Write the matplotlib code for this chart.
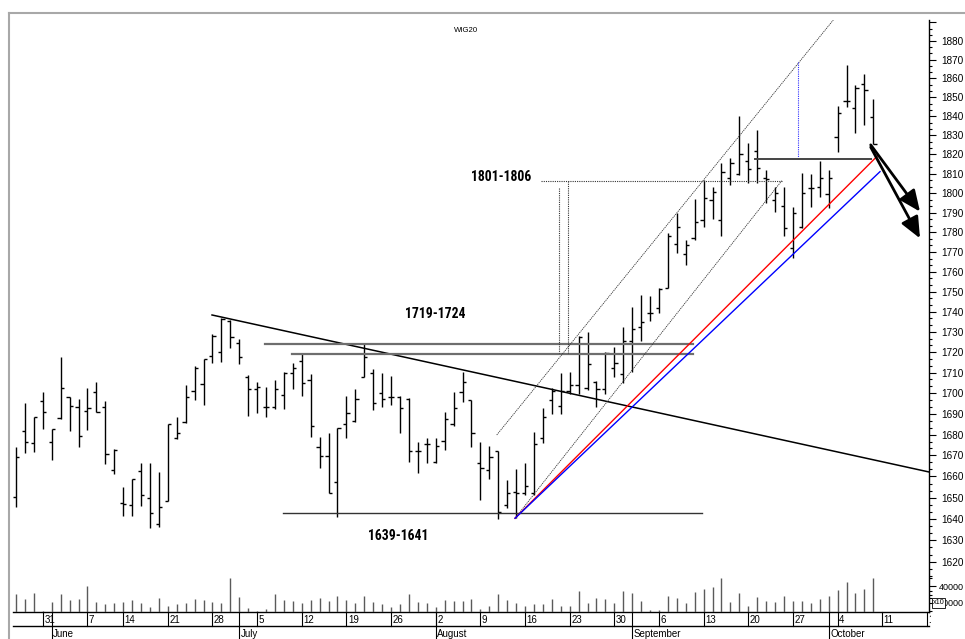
import numpy as np
import pandas as pd
import matplotlib
matplotlib.use('Agg')
import matplotlib.pyplot as plt
import matplotlib.font_manager as fm
from matplotlib.ticker import FixedLocator, FuncFormatter, NullFormatter
from matplotlib.lines import Line2D
from matplotlib.patches import Rectangle
import matplotlib.transforms as mtrans

plt.rcParams['font.family'] = ['Liberation Sans', 'DejaVu Sans']

# ---------------- data (WIG20 daily OHLC, 2004) ----------------
start_date = '2004-05-26'
holidays = ['2004-06-10']

opens = [1650.5, 1681.9, 1676.1, 1696.2, 1676.6, 1687.8, 1698.3, 1693.2, 1691.4, 1700.5,
         1693.2, 1663.2, 1647.6, 1646.5, 1662.6, 1649.7, 1637.5, 1648.6, 1678.4, 1686.2,
         1701.2, 1704.4, 1718.2, 1720.3, 1735.6, 1724.4, 1708.0, 1701.9, 1693.2, 1693.5,
         1699.1, 1709.9, 1715.9, 1706.4, 1674.2, 1669.8, 1657.6, 1684.9, 1686.7, 1707.8,
         1709.9, 1700.0, 1698.3, 1698.3, 1697.0, 1672.3, 1675.5, 1667.1, 1677.1, 1685.1,
         1700.8, 1696.7, 1666.6, 1662.9, 1672.3, 1646.5, 1652.8, 1652.1, 1652.1, 1678.2,
         1696.7, 1693.8, 1701.2, 1704.0, 1702.3, 1705.6, 1701.9, 1712.4, 1709.3, 1725.6,
         1732.3, 1739.3, 1741.7, 1751.7, 1774.1, 1769.0, 1776.9, 1786.3, 1796.5, 1786.0,
         1807.7, 1809.9, 1816.8, 1821.9, 1807.7, 1796.5, 1793.4, 1772.1, 1782.6, 1802.5,
         1803.0, 1799.6, 1828.9, 1848.0, 1844.1, 1857.0, 1839.7]
highs = [1673.9, 1695.1, 1688.3, 1700.5, 1682.7, 1717.5, 1698.3, 1697.2, 1702.6, 1705.3,
         1696.4, 1673.0, 1654.9, 1658.7, 1666.3, 1666.3, 1662.1, 1684.9, 1688.3, 1704.0,
         1713.4, 1716.7, 1729.0, 1736.8, 1735.9, 1726.3, 1708.8, 1705.6, 1702.8, 1706.4,
         1710.4, 1714.9, 1719.5, 1709.3, 1678.7, 1680.6, 1683.3, 1698.6, 1701.9, 1724.7,
         1711.6, 1709.9, 1708.3, 1698.6, 1697.5, 1676.6, 1678.2, 1678.2, 1691.0, 1700.8,
         1710.4, 1696.7, 1676.6, 1674.5, 1672.3, 1658.1, 1663.5, 1666.3, 1681.4, 1692.7,
         1702.3, 1709.9, 1710.4, 1728.0, 1730.1, 1706.1, 1720.3, 1722.7, 1732.6, 1742.5,
         1748.4, 1747.9, 1751.7, 1779.7, 1789.7, 1776.1, 1796.9, 1806.8, 1803.0, 1815.8,
         1818.1, 1840.1, 1826.1, 1832.7, 1812.0, 1803.0, 1803.4, 1793.1, 1810.3, 1809.9,
         1816.6, 1812.0, 1845.2, 1866.9, 1856.6, 1862.4, 1849.3]
lows = [1645.8, 1671.4, 1671.8, 1682.7, 1667.6, 1687.3, 1681.9, 1674.2, 1682.2, 1691.0,
        1666.0, 1661.3, 1641.4, 1641.4, 1646.2, 1635.6, 1636.1, 1648.6, 1678.0, 1685.7,
        1696.7, 1694.3, 1714.6, 1715.4, 1721.9, 1714.1, 1688.9, 1690.5, 1688.3, 1692.4,
        1692.2, 1701.9, 1698.6, 1678.7, 1664.0, 1652.1, 1641.0, 1678.2, 1686.2, 1707.7,
        1691.9, 1693.4, 1694.3, 1680.6, 1667.1, 1661.6, 1666.6, 1666.6, 1672.6, 1684.1,
        1695.9, 1673.9, 1648.9, 1658.7, 1639.8, 1645.0, 1640.3, 1651.3, 1651.3, 1675.8,
        1689.9, 1689.9, 1699.6, 1699.6, 1701.6, 1693.2, 1699.6, 1708.0, 1704.8, 1710.4,
        1725.6, 1735.6, 1739.3, 1751.7, 1769.4, 1763.4, 1776.1, 1782.6, 1786.7, 1777.9,
        1804.2, 1809.4, 1805.1, 1805.1, 1794.8, 1790.2, 1777.9, 1766.8, 1782.1, 1792.8,
        1798.2, 1792.3, 1821.4, 1845.0, 1831.3, 1835.4, 1825.2]
closes = [1669.5, 1676.6, 1688.3, 1691.0, 1682.7, 1702.3, 1693.8, 1679.3, 1692.7, 1691.0,
          1670.8, 1672.6, 1647.0, 1658.7, 1651.3, 1642.6, 1645.5, 1684.9, 1680.8, 1698.3,
          1712.1, 1716.5, 1728.0, 1736.3, 1727.3, 1717.5, 1701.9, 1702.8, 1693.2, 1701.9,
          1709.9, 1712.4, 1704.8, 1684.1, 1669.8, 1652.1, 1683.3, 1690.5, 1697.2, 1717.5,
          1695.1, 1697.2, 1698.0, 1692.7, 1672.3, 1672.3, 1675.5, 1674.6, 1687.3, 1692.7,
          1705.6, 1680.6, 1664.0, 1669.5, 1643.4, 1652.4, 1652.1, 1655.5, 1675.5, 1688.6,
          1701.2, 1701.2, 1704.0, 1727.3, 1714.0, 1701.9, 1719.8, 1714.6, 1725.6, 1731.3,
          1735.1, 1739.3, 1751.2, 1777.9, 1782.6, 1773.6, 1785.4, 1797.4, 1800.8, 1811.1,
          1815.8, 1820.2, 1812.4, 1812.9, 1807.2, 1800.3, 1782.4, 1790.0, 1800.3, 1802.5,
          1807.7, 1807.7, 1841.8, 1847.8, 1854.9, 1853.6, 1825.2]
volumes = [30700, 24200, 32400, 10300, 20900, 30300, 23300, 24600, 40900, 20900,
           18000, 20100, 20900, 23300, 20100, 14400, 25400, 16400, 18000, 19300,
           24200, 23300, 20900, 20100, 49900, 26600, 13100, 9500, 12300, 30700,
           23300, 22100, 20100, 23300, 25400, 22100, 28200, 23300, 19300, 28200,
           20900, 18000, 14400, 18000, 30700, 20900, 19300, 14400, 23300, 22100,
           22100, 24600, 12300, 16400, 30300, 23300, 19300, 16400, 18000, 18000,
           24600, 16400, 16400, 34400, 20100, 25400, 24600, 20100, 34400, 32400,
           22100, 11100, 11100, 28700, 25400, 20100, 33600, 36800, 38900, 49900,
           21300, 32400, 16400, 27500, 22100, 21300, 28700, 22100, 22100, 20100,
           24600, 28700, 35600, 45000, 31500, 36400, 50800]

price_ticks = list(range(1620, 1891, 10))
volume_ticks = [20000, 40000]
month_names = {6: 'June', 7: 'July', 8: 'August', 9: 'September', 10: 'October'}

# drawn studies: (x as trading-day index, price)
downtrend = ([21.95, 102.27], [1738.4, 1662.1])
resist_hi = ([27.88, 75.78], [1724.1, 1724.1])
resist_lo = ([30.94, 75.78], [1719.2, 1719.2])
support = ([29.87, 76.82], [1642.9, 1642.9])
chan_upper = ([53.83, 91.52], [1679.8, 1891.3])
chan_lower = ([55.88, 85.75], [1640.3, 1806.4])
red_trend = ([55.88, 96.56], [1640.3, 1819.7])
blue_trend = ([55.88, 96.75], [1640.3, 1811.1])
target_h = ([58.79, 85.75], [1806.5, 1806.5])
target_v1 = ([60.81, 60.81], [1802.5, 1719.6])
target_v2 = ([61.85, 61.85], [1806.5, 1719.6])
blue_v = ([87.6, 87.6], [1868.9, 1817.4])
top_h = ([82.75, 95.71], [1817.7, 1817.7])
arrows = [((95.71, 1825.0), (101.23, 1790.5)), ((95.71, 1823.8), (101.23, 1776.9))]
labels = [('1801-1806', 57.75, 1806.4), ('1719-1724', 50.28, 1736.8), ('1639-1641', 46.14, 1630.2)]


def narrow_bold_font():
    pref = ['Liberation Sans Narrow', 'Arial Narrow', 'DejaVu Sans Condensed',
            'Noto Sans Condensed', 'Roboto Condensed', 'Open Sans Condensed']
    entries = fm.fontManager.ttflist
    for p in pref:
        for e in entries:
            if e.name == p and e.weight in ('bold', 700) and e.style == 'normal':
                return e.fname
    for e in entries:
        nm = e.fname.lower()
        if (('condensed' in nm and 'semi' not in nm and 'extra' not in nm) or 'narrow' in nm) \
                and e.weight in ('bold', 700) and e.style == 'normal' \
                and 'mono' not in nm and 'serif' not in nm and 'italic' not in nm:
            return e.fname
    return None


# ---------------- figure ----------------
W, H = 965, 639
fig = plt.figure(figsize=(W / 100, H / 100), dpi=100)
fig.patch.set_facecolor('white')


def fx(px):
    return px / W


def fy(py):
    return 1 - py / H


L, R, T, B = 12.7, 929.3, 20.0, 612.3
XMIN, XMAX = -0.37, 102.27

dates = pd.bdate_range(start_date, '2004-10-22')
dates = dates[~dates.isin(pd.to_datetime(holidays))]
n = len(opens)
x = np.arange(n)

ax = fig.add_axes([fx(L), fy(B), fx(R) - fx(L), fy(T) - fy(B)])
ax.patch.set_alpha(0)
ax.set_yscale('log')
ax.set_xlim(XMIN, XMAX)
ax.set_ylim(1596.8, 1891.3)

lw_bar = 1.0
ax.vlines(x, lows, highs, color='black', lw=lw_bar)
ax.hlines(opens, x - 0.36, x, color='black', lw=lw_bar)
ax.hlines(closes, x, x + 0.36, color='black', lw=lw_bar)

ax.yaxis.set_major_locator(FixedLocator(price_ticks))
ax.yaxis.set_major_formatter(FuncFormatter(lambda v, p: '' if v > 1885 else f'{v:.0f}'))
minor = []
for k in range(0, 88):
    m = 1600 + k * 10 / 3
    if k % 3 != 0 and m < 1891:
        minor.append(m)
ax.yaxis.set_minor_locator(FixedLocator(minor))
ax.yaxis.set_minor_formatter(NullFormatter())
ax.yaxis.tick_right()
ax.tick_params(axis='y', which='major', direction='out', length=5, width=0.8, labelsize=7.2, pad=3.5)
ax.tick_params(axis='y', which='minor', direction='out', length=2.5, width=0.8)
ax.set_xticks([])
for s in ['left', 'top']:
    ax.spines[s].set_visible(False)
ax.spines['right'].set_linewidth(1.0)
ax.spines['bottom'].set_linewidth(1.0)

# studies
ax.plot(*downtrend, color='black', lw=1.1)
ax.plot(*resist_hi, color='#6e6e6e', lw=1.6)
ax.plot(*resist_lo, color='#6e6e6e', lw=1.6)
ax.plot(*support, color='#333333', lw=1.0)
ax.plot(*chan_upper, color='#333333', lw=0.6, ls=(0, (1.5, 1)))
ax.plot(*chan_lower, color='#333333', lw=0.6, ls=(0, (1.5, 1)))
ax.plot(*red_trend, color='#ff0000', lw=1.0)
ax.plot(*blue_trend, color='#0000ff', lw=1.0)
ax.plot(*target_h, color='#333333', lw=0.8, ls=(0, (1, 1)))
ax.plot(*target_v1, color='#333333', lw=0.8, ls=(0, (1, 1)))
ax.plot(*target_v2, color='#333333', lw=0.8, ls=(0, (1, 1)))
ax.plot(*blue_v, color='#3030ff', lw=0.8, ls=(0, (1, 1)))
ax.plot(*top_h, color='#444444', lw=1.4)
for st, tip in arrows:
    ax.annotate('', xy=tip, xytext=st,
                arrowprops=dict(arrowstyle='-|>,head_length=0.8,head_width=0.35',
                                color='black', lw=2.0, mutation_scale=16,
                                shrinkA=0, shrinkB=0), annotation_clip=False)

nb = narrow_bold_font()
label_texts = []
for txt, lx, ly in labels:
    if nb is not None:
        fp = fm.FontProperties(fname=nb, size=11.5)
    else:
        fp = fm.FontProperties(family=['Liberation Sans', 'DejaVu Sans'], weight='bold', size=10)
    label_texts.append(ax.text(lx, ly, txt, ha='right', va='baseline', fontproperties=fp))

# volume overlay
VTOP = 570
axv = fig.add_axes([fx(L), fy(B), fx(R) - fx(L), fy(VTOP) - fy(B)])
axv.patch.set_alpha(0)
axv.set_xlim(XMIN, XMAX)
vfloor = 8220
axv.set_ylim(vfloor, 60120)
axv.vlines(x, vfloor, volumes, color='#5a5a5a', lw=1.0)
axv.set_xticks([])
for s in axv.spines.values():
    s.set_visible(False)
axv.yaxis.tick_right()
axv.yaxis.set_major_locator(FixedLocator(volume_ticks))
axv.yaxis.set_major_formatter(FuncFormatter(lambda v, p: f'{v:.0f}'))
axv.yaxis.set_minor_locator(FixedLocator([10000, 30000, 50000]))
axv.tick_params(axis='y', which='major', direction='out', length=5, width=0.8, labelsize=6.5, pad=2)
axv.tick_params(axis='y', which='minor', direction='out', length=2.5, width=0.8)
fig.text(fx(938.5), fy(603), 'x10', fontsize=5.2, ha='center', va='center',
         bbox=dict(boxstyle='square,pad=0.15', fc='white', ec='black', lw=0.6))

# date rows
trans = mtrans.blended_transform_factory(ax.transData, fig.transFigure)
clip_rect = Rectangle((0, 0), fx(930.5), 1, transform=fig.transFigure)
for i, d in enumerate(dates):
    if i > XMAX:
        break
    if d.weekday() == 0:
        fig.add_artist(Line2D([i, i], [fy(612.3), fy(626.3)], transform=trans, color='black', lw=0.8))
        t = fig.text(i + 0.17, fy(619.6), str(d.day), transform=trans, fontsize=7,
                     ha='left', va='center')
        t.set_clip_path(clip_rect)
    if i > 0 and d.month != dates[i - 1].month:
        fig.add_artist(Line2D([i, i], [fy(612.3), 0], transform=trans, color='black', lw=0.8))
        fig.text(i + 0.17, fy(633.6), month_names[d.month], transform=trans, fontsize=7,
                 ha='left', va='center')
fig.add_artist(Line2D([fx(L), fx(R)], [fy(626.3), fy(626.3)], transform=fig.transFigure,
                      color='black', lw=1.0))

# outer frame
fig.add_artist(Line2D([fx(9), fx(9)], [fy(13), 0], transform=fig.transFigure, color='#a8a8a8', lw=1.5))
fig.add_artist(Line2D([fx(9), 1], [fy(13), fy(13)], transform=fig.transFigure, color='#a8a8a8', lw=1.5))

fig.text(fx(466), fy(30), 'WIG20', fontsize=5.6, ha='center', va='center')

# fit the bold study labels to the width they take in the chart (about 61 px)
fig.canvas.draw()
rend = fig.canvas.get_renderer()
for t in label_texts:
    w = t.get_window_extent(rend).width
    if w > 0:
        t.set_fontsize(t.get_fontsize() * 61.0 / w)

fig.savefig('out.png', dpi=100)
